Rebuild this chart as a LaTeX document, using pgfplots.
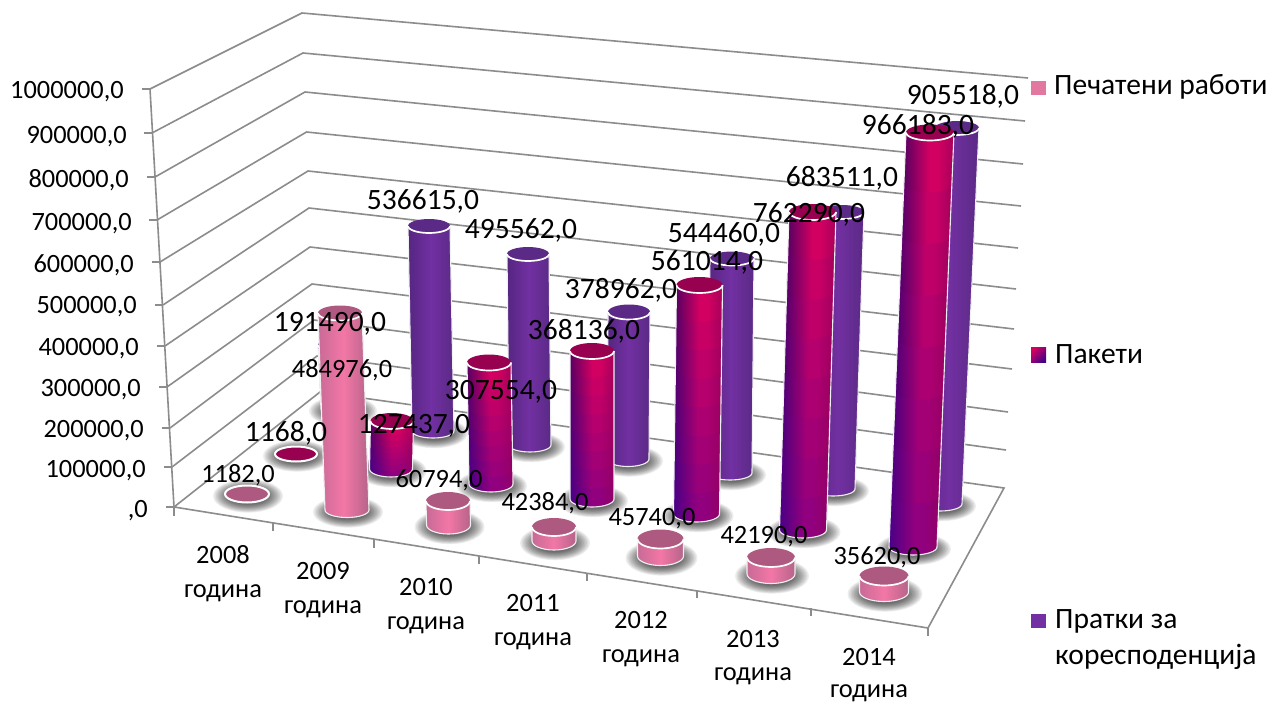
\documentclass[border=0pt]{standalone}
\usepackage{pgfplots}
\pgfplotsset{compat=1.18}
\usepackage{fontspec}
\setmainfont{Carlito}
\definecolor{gridc}{HTML}{8C8C8C}
\definecolor{prTL}{HTML}{C86A96}\definecolor{prTM}{HTML}{F377A6}\definecolor{prTR}{HTML}{B5648A}
\definecolor{prBL}{HTML}{C86A96}\definecolor{prBM}{HTML}{F377A6}\definecolor{prBR}{HTML}{B5648A}
\definecolor{prCap}{HTML}{AE5A80}
\definecolor{pkTL}{HTML}{5A0060}\definecolor{pkTM}{HTML}{D6005F}\definecolor{pkTR}{HTML}{A8005A}
\definecolor{pkBL}{HTML}{480088}\definecolor{pkBM}{HTML}{8C0080}\definecolor{pkBR}{HTML}{900068}
\definecolor{pkCap}{HTML}{980050}
\definecolor{puTL}{HTML}{552680}\definecolor{puTM}{HTML}{7230A2}\definecolor{puTR}{HTML}{5A2A85}
\definecolor{puBL}{HTML}{552680}\definecolor{puBM}{HTML}{7230A2}\definecolor{puBR}{HTML}{5A2A85}
\definecolor{puCap}{HTML}{5B2A86}
\makeatletter
\pgfdeclareverticalshading[tikz@axis@top,tikz@axis@middle,tikz@axis@bottom]{axisB}{100bp}{color(0bp)=(tikz@axis@bottom); color(25bp)=(tikz@axis@bottom); color(41bp)=(tikz@axis@middle); color(50bp)=(tikz@axis@middle); color(75bp)=(tikz@axis@top); color(100bp)=(tikz@axis@top)}
\makeatother
% points of an elliptical arc, appended to \pts
\newcommand\arcpts[6]{%
 \foreach \i in {0,...,16}{%
  \pgfmathsetmacro\a{#5+(#6-#5)*\i/16}%
  \pgfmathsetmacro\px{#1+#3*cos(\a)}%
  \pgfmathsetmacro\py{#2+#4*sin(\a)}%
  \xdef\pts{\pts (\px,\py)}}}
\newcommand\shad[4]{% cx cy rx ry
 \foreach \s in {10,9,8,7,6,5,4,3,2,1,0}{%
  \pgfmathsetmacro\srx{#3-2+1.5*\s}\pgfmathsetmacro\sry{#4+0.2+0.8*\s}%
  \pgfmathsetmacro\scx{#1+1}\pgfmathsetmacro\scy{#2+2}%
  \gdef\pts{}\arcpts{\scx}{\scy}{\srx}{\sry}{0}{180}\arcpts{\scx}{\scy}{\srx}{\sry}{180}{360}%
  \edef\tmp{\noexpand\addplot[forget plot,mark=none,draw=none,fill=black,fill opacity=0.07] coordinates {\pts};}\tmp}}
% series, cxTop, yTop, cxBase, yBase, rx, ry, number of colour bands, shading name
\newcommand\cyl[9]{%
 \pgfmathsetmacro\NN{#8}%
 \ifnum#8=1 \def\seglist{1}\else\def\seglist{8,7,6,5,4,3,2,1}\fi
 \foreach \k in \seglist{%
  \pgfmathsetmacro\ya{#3+(#5-#3)*(\k-1)/\NN}\pgfmathsetmacro\yb{#3+(#5-#3)*\k/\NN}%
  \pgfmathsetmacro\xa{#2+(#4-#2)*(\k-1)/\NN}\pgfmathsetmacro\xb{#2+(#4-#2)*\k/\NN}%
  \pgfmathsetmacro\pp{100*(\k-0.5)/\NN}%
  \pgfmathsetmacro\xl{\xa-#6}\pgfmathsetmacro\xr{\xa+#6}%
  \xdef\pts{(\xl,\ya)}\arcpts{\xb}{\yb}{#6}{#7}{180}{0}\xdef\pts{\pts (\xr,\ya)}%
  \edef\tmp{\noexpand\addplot[forget plot,mark=none,draw=none,left color=#1BL!\pp!#1TL,right color=#1BR!\pp!#1TR,middle color=#1BM!\pp!#1TM,shading=#9] coordinates {\pts};}\tmp}%
 % outline of sides and bottom
 \pgfmathsetmacro\xl{#2-#6}\pgfmathsetmacro\xr{#2+#6}%
 \xdef\pts{(\xl,#3)}\arcpts{#4}{#5}{#6}{#7}{180}{0}\xdef\pts{\pts (\xr,#3)}%
 \edef\tmp{\noexpand\addplot[forget plot,mark=none,draw=white!88!gray,line width=1.1pt] coordinates {\pts};}\tmp
 % cap
 \gdef\pts{}\arcpts{#2}{#3}{#6}{#7}{0}{180}\arcpts{#2}{#3}{#6}{#7}{180}{360}%
 \edef\tmp{\noexpand\addplot[forget plot,mark=none,draw=none,fill=#1Cap] coordinates {\pts};}\tmp
 % white rim
 \gdef\pts{}\arcpts{#2}{#3}{#6}{#7}{180}{0}%
 \edef\tmp{\noexpand\addplot[forget plot,mark=none,draw=white,line width=1.7pt] coordinates {\pts};}\tmp}
\newcommand\disk[5]{% series cx cy rx ry
 \gdef\pts{}\arcpts{#2}{#3}{#4}{#5}{0}{180}\arcpts{#2}{#3}{#4}{#5}{180}{360}%
 \edef\tmp{\noexpand\addplot[forget plot,mark=none,draw=white,line width=2pt,fill=#1Cap] coordinates {\pts} --cycle;}\tmp}
\newcommand\gl[1]{\addplot[forget plot,mark=none,draw=gridc,line width=1.6pt] coordinates {#1};}
\newcommand\bigt{\fontsize{29.5}{33}\selectfont}
\newcommand\smt{\fontsize{26.4}{30}\selectfont}
\begin{document}
\begin{tikzpicture}
\begin{axis}[width=1280pt,height=701pt,scale only axis,xmin=0,xmax=1280,ymin=0,ymax=701,
  y dir=reverse,hide axis,clip=false]
\addplot[forget plot,mark=none,draw=none,fill=white] coordinates {(0,0)(1280,0)(1280,701)(0,701)};
% walls
\gl{(150,89)(302,13)(1028,78)}
\gl{(152,133)(303,53)(1025,121)}
\gl{(155,177)(305,92)(1023,164)}
\gl{(157,220)(306.5,132)(1021,206)}
\gl{(160,262)(308,171)(1018,248)}
\gl{(163,305)(309,208)(1016,289)}
\gl{(165,346)(310,247)(1014,329)}
\gl{(167,387)(312,284)(1012,369)}
\gl{(170,428)(314,320)(1008,412)}
\gl{(172,467)(317,356)(1006,450)}
\gl{(174,507)(320,392)(1004,488)(928,628)(174,507)}
\gl{(150,89)(174,507)}
% value axis ticks
\gl{(142,89)(150,89)}\gl{(144,133)(152,133)}\gl{(147,177)(155,177)}\gl{(149,220)(157,220)}
\gl{(152,262)(160,262)}\gl{(155,305)(163,305)}\gl{(157,346)(165,346)}\gl{(159,387)(167,387)}
\gl{(162,428)(170,428)}\gl{(164,467)(172,467)}\gl{(166,507)(174,507)}
% category ticks
\gl{(174,507)(174,516)}\gl{(273,523)(273,531)}\gl{(374,540)(374,548)}\gl{(479,556)(479,564)}
\gl{(587,573)(587,581)}\gl{(697,590)(697,598)}\gl{(811,608)(811,616)}\gl{(928,628)(928,636)}
% shadows: cx, base y, rx, ry
\shad{342}{409}{21}{7}\shad{433}{431}{21}{7}\shad{530}{445}{21}{7}\shad{628}{459}{21}{7.5}
\shad{730}{473}{22}{7}\shad{833}{489}{22}{7}\shad{940}{504}{22}{7}
\shad{296}{454}{21}{7.5}\shad{391}{469}{21.5}{8}\shad{491}{484}{22}{8}\shad{592}{499}{22}{8}
\shad{696.5}{514}{23}{8}\shad{803}{530}{23.5}{8}\shad{913}{547}{24}{8}
\shad{247}{494}{22}{8.5}\shad{347}{510}{22}{7.5}\shad{448.5}{525}{22}{9}\shad{554}{541}{22}{9}
\shad{660.5}{556}{23}{9.5}\shad{771}{574}{24}{9.5}\shad{884}{592}{24.5}{9.5}
% Пратки за кореспонденција
\cyl{pu}{339}{345}{342}{409}{21}{7}{1}{axis}
\cyl{pu}{429}{226}{433}{431}{21}{7}{1}{axis}
\cyl{pu}{528}{254}{530}{445}{21}{7}{1}{axis}
\cyl{pu}{629}{312}{628}{459}{21}{7.5}{1}{axis}
\cyl{pu}{732}{258.5}{730}{473}{22}{7}{1}{axis}
\cyl{pu}{842}{212}{833}{489}{22}{7}{1}{axis}
\cyl{pu}{957}{128}{940}{504}{22}{7}{1}{axis}
% Пакети
\disk{pk}{296}{454}{21}{7.5}
\cyl{pk}{392}{421}{391}{469}{21.5}{8}{8}{axisB}
\cyl{pk}{489}{362.5}{491}{484}{22}{8}{8}{axisB}
\cyl{pk}{592}{351}{592}{499}{22}{8}{8}{axisB}
\cyl{pk}{699.5}{285}{696.5}{514}{23}{8}{8}{axisB}
\cyl{pk}{812.5}{212}{803}{530}{23.5}{8}{8}{axisB}
\cyl{pk}{930}{132.5}{913}{547}{24}{8}{8}{axisB}
% Печатени работи
\disk{pr}{247}{494}{22}{8.5}
\cyl{pr}{340}{313}{347}{510}{22}{7.5}{1}{axis}
\cyl{pr}{448}{501}{448.5}{525}{22}{9}{1}{axis}
\cyl{pr}{554}{527}{554}{541}{22}{9}{1}{axis}
\cyl{pr}{660.5}{539}{660.5}{556}{23}{9.5}{1}{axis}
\cyl{pr}{771}{557.5}{771}{574}{24}{9.5}{1}{axis}
\cyl{pr}{884}{576}{884}{592}{24.5}{9.5}{1}{axis}
% legend swatches
\addplot[forget plot,mark=none,draw=none,fill=prTM!85!gray] coordinates {(1031,81)(1046,81)(1046,95)(1031,95)};
\addplot[forget plot,mark=none,draw=none,top color=pkTM,bottom color=pkBL,shading angle=45] coordinates {(1031,347)(1046,347)(1046,362)(1031,362)};
\addplot[forget plot,mark=none,draw=none,fill=puTM] coordinates {(1031,614)(1046,614)(1046,628)(1031,628)};
% value axis labels
\begin{scope}[every node/.style={inner sep=0pt,font=\smt,text=black}]
\node[anchor=base east] at (124,99) {1000000,0};
\node[anchor=base east] at (127,143) {900000,0};
\node[anchor=base east] at (129,187) {800000,0};
\node[anchor=base east] at (132,230) {700000,0};
\node[anchor=base east] at (134,272) {600000,0};
\node[anchor=base east] at (137,313) {500000,0};
\node[anchor=base east] at (139,355) {400000,0};
\node[anchor=base east] at (141,396) {300000,0};
\node[anchor=base east] at (144,437) {200000,0};
\node[anchor=base east] at (146,477) {100000,0};
\node[anchor=base east] at (148,517) {,0};
% category labels
\node[anchor=base] at (223,563) {2008};\node[anchor=base] at (223,597) {година};
\node[anchor=base] at (323,579) {2009};\node[anchor=base] at (323,613) {година};
\node[anchor=base] at (426,595) {2010};\node[anchor=base] at (426,629) {година};
\node[anchor=base] at (533,611) {2011};\node[anchor=base] at (533,645) {година};
\node[anchor=base] at (641,628) {2012};\node[anchor=base] at (641,662) {година};
\node[anchor=base] at (753,647) {2013};\node[anchor=base] at (753,680) {година};
\node[anchor=base] at (869,665) {2014};\node[anchor=base] at (869,697) {година};
% data labels, Печатени работи
\begin{scope}[yshift=-2pt]
\node at (238,473) {1182,0};
\node at (342,368) {484976,0};
\node at (439,478) {60794,0};
\node at (545,501) {42384,0};
\node at (652,517) {45740,0};
\node at (764,535) {42190,0};
\node at (877,555) {35620,0};
\end{scope}
\end{scope}
\begin{scope}[every node/.style={inner sep=0pt,font=\bigt,text=black}]
% legend
\node[anchor=base west] at (1054,95) {Печатени работи};
\node[anchor=base west] at (1055,363) {Пакети};
\node[anchor=base west] at (1055,628) {Пратки за};
\node[anchor=base west] at (1055,664) {коресподенција};
\begin{scope}[yshift=-2pt]
\node at (286,431) {1168,0};
\node at (414,424) {127437,0};
\node at (501,390) {307554,0};
\node at (584,329) {368136,0};
\node at (707,260) {561014,0};
\node at (809,212) {762290,0};
\node at (918,124) {966183,0};
\node at (330,322) {191490,0};
\node at (423,199) {536615,0};
\node at (521,228) {495562,0};
\node at (621,288) {378962,0};
\node at (724,232) {544460,0};
\node at (842,176) {683511,0};
\node at (963,94) {905518,0};
\end{scope}
\end{scope}
\end{axis}
\end{tikzpicture}
\end{document}
